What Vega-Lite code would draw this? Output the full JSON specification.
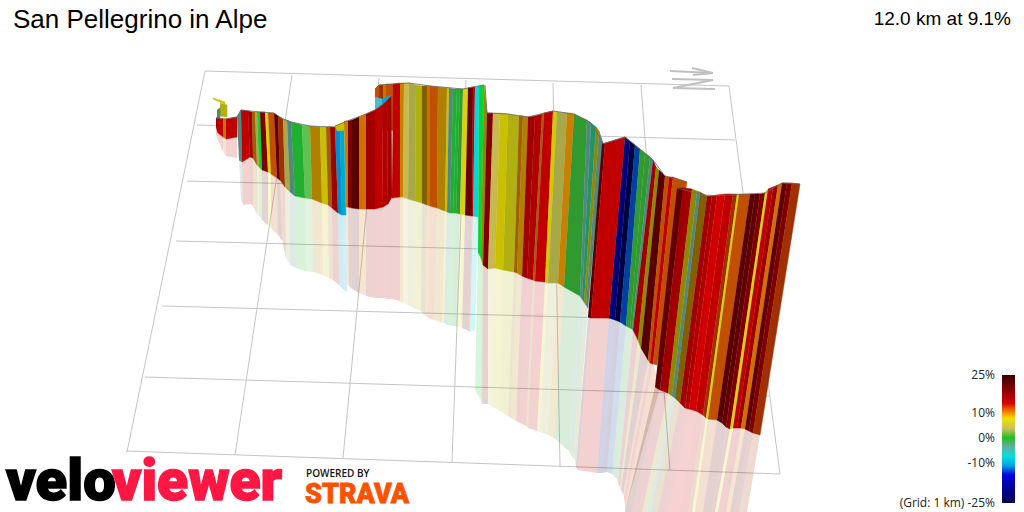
{
  "$schema": "https://vega.github.io/schema/vega-lite/v6.json",
  "width": 1024,
  "height": 512,
  "autosize": {"type": "none"},
  "padding": 0,
  "background": "white",
  "view": {"stroke": null},
  "datasets": {
    "grid": [
      {"x": 205, "y": 71, "x2": 729, "y2": 86},
      {"x": 197, "y": 125, "x2": 735, "y2": 140},
      {"x": 187, "y": 181, "x2": 743, "y2": 196},
      {"x": 176, "y": 241, "x2": 751, "y2": 256},
      {"x": 162, "y": 306, "x2": 758, "y2": 322},
      {"x": 145, "y": 377, "x2": 769, "y2": 396},
      {"x": 126, "y": 451, "x2": 780, "y2": 474},
      {"x": 205, "y": 71, "x2": 127, "y2": 452},
      {"x": 292, "y": 75, "x2": 235, "y2": 455},
      {"x": 379, "y": 78, "x2": 343, "y2": 458},
      {"x": 466, "y": 80, "x2": 452, "y2": 462},
      {"x": 553, "y": 83, "x2": 560, "y2": 467},
      {"x": 641, "y": 85, "x2": 670, "y2": 470},
      {"x": 729, "y": 86, "x2": 780, "y2": 474}
    ],
    "north": [
      {"x": 670, "y": 71, "x2": 713, "y2": 73},
      {"x": 692, "y": 68, "x2": 713, "y2": 73},
      {"x": 713, "y": 73, "x2": 693, "y2": 75},
      {"x": 672, "y": 79, "x2": 713, "y2": 80},
      {"x": 713, "y": 80, "x2": 673, "y2": 88},
      {"x": 673, "y": 88, "x2": 715, "y2": 89}
    ],
    "stripes": [
      {"g": 6, "x": [213, 225, 225, 213], "y": [98, 102, 104, 99]},
      {"g": 5, "x": [220, 227, 227, 220], "y": [103, 105, 117, 116]},
      {"g": -2, "x": [217, 220, 220, 217], "y": [110, 108, 118, 118]},
      {"g": 16, "x": [216, 218, 218, 216], "y": [118, 118, 133, 127], "mx": [216, 218, 218, 216], "my": [127, 133, 140, 135]},
      {"g": 14, "x": [218, 223, 223, 218], "y": [118, 119, 137, 133], "mx": [218, 223, 223, 218], "my": [133, 137, 152, 140]},
      {"g": 10, "x": [223, 226, 226, 223], "y": [119, 119, 139, 137], "mx": [223, 226, 226, 223], "my": [137, 139, 156, 152]},
      {"g": 14, "x": [226, 237, 237, 226], "y": [119, 117, 137, 139], "mx": [226, 237, 237, 226], "my": [139, 137, 158, 156]},

      {"g": -2, "x": [237, 241, 242, 239], "y": [117, 110, 162, 160], "mx": [239, 242, 243, 241], "my": [160, 162, 205, 200]},
      {"g": 14, "x": [241, 248, 250, 242], "y": [110, 111, 157, 162], "mx": [242, 250, 250, 243], "my": [162, 157, 204, 205]},
      {"g": 16, "x": [248, 252, 253, 250], "y": [111, 112, 158, 157], "mx": [250, 253, 253, 250], "my": [157, 158, 206, 204]},
      {"g": 8.5, "x": [252, 255, 257, 253], "y": [112, 112, 165, 158], "mx": [253, 257, 257, 253], "my": [158, 165, 214, 206]},
      {"g": 3, "x": [255, 257, 259, 257], "y": [112, 112, 167, 165], "mx": [257, 259, 259, 257], "my": [165, 167, 216, 214]},
      {"g": 1, "x": [257, 260, 262, 259], "y": [112, 112, 170, 167], "mx": [259, 262, 262, 259], "my": [167, 170, 220, 216]},
      {"g": 18, "x": [260, 265, 268, 262], "y": [112, 112, 172, 170], "mx": [262, 268, 268, 262], "my": [170, 172, 225, 220]},
      {"g": 7, "x": [265, 268, 271, 268], "y": [112, 113, 174, 172], "mx": [268, 271, 271, 268], "my": [172, 174, 228, 225]},
      {"g": 11, "x": [268, 274, 277, 271], "y": [113, 113, 178, 174], "mx": [271, 277, 278, 271], "my": [174, 178, 235, 228]},
      {"g": 21, "x": [274, 278, 280, 277], "y": [113, 116, 180, 178], "mx": [277, 280, 282, 278], "my": [178, 180, 240, 235]},
      {"g": 12, "x": [278, 283, 285, 280], "y": [116, 119, 187, 180], "mx": [280, 285, 286, 282], "my": [180, 187, 258, 240]},
      {"g": 3, "x": [283, 287, 290, 285], "y": [119, 120, 192, 187], "mx": [285, 290, 290, 286], "my": [187, 192, 265, 258]},
      {"g": -2, "x": [287, 291, 295, 290], "y": [120, 122, 196, 192], "mx": [290, 295, 296, 290], "my": [192, 196, 268, 265]},
      {"g": 0, "x": [291, 302, 305, 295], "y": [122, 125, 198, 196], "mx": [295, 305, 306, 296], "my": [196, 198, 271, 268]},
      {"g": 1.5, "x": [302, 310, 312, 305], "y": [125, 126, 199, 198], "mx": [305, 312, 313, 306], "my": [198, 199, 272, 271]},
      {"g": 8, "x": [310, 320, 322, 312], "y": [126, 127, 203, 199], "mx": [312, 322, 323, 313], "my": [199, 203, 275, 272]},
      {"g": 6, "x": [320, 326, 328, 322], "y": [127, 127, 205, 203], "mx": [322, 328, 329, 323], "my": [203, 205, 278, 275]},
      {"g": 8.5, "x": [326, 330, 332, 328], "y": [127, 127, 208, 205], "mx": [328, 332, 333, 329], "my": [205, 208, 280, 278]},
      {"g": 16, "x": [330, 335, 338, 332], "y": [127, 127, 213, 208], "mx": [332, 338, 339, 333], "my": [208, 213, 285, 280]},
      {"g": -10, "x": [335, 340, 342, 338], "y": [127, 129, 215, 213], "mx": [338, 342, 344, 339], "my": [213, 215, 290, 285]},
      {"g": -9, "x": [340, 344, 346, 342], "y": [129, 130, 215, 215], "mx": [342, 346, 347, 344], "my": [215, 215, 293, 290]},

      {"g": 11, "x": [375, 379, 379, 375], "y": [89, 85, 130, 130]},
      {"g": 12, "x": [379, 383, 383, 379], "y": [85, 85, 130, 130]},
      {"g": 10, "x": [383, 386, 386, 383], "y": [85, 84, 130, 130]},
      {"g": 11, "x": [386, 393, 393, 386], "y": [84, 84, 130, 130]},
      {"g": -5, "x": [375, 382, 382, 375], "y": [97, 99, 115, 115]},
      {"g": -9, "x": [382, 391, 390, 382], "y": [99, 95, 130, 130]},

      {"g": 14, "x": [393, 400, 400, 392], "y": [84, 83, 197, 198], "mx": [392, 400, 400, 392], "my": [198, 197, 301, 299]},
      {"g": 9, "x": [400, 404, 403, 400], "y": [83, 83, 197, 197], "mx": [400, 403, 403, 400], "my": [197, 197, 303, 301]},
      {"g": 4, "x": [404, 409, 408, 403], "y": [83, 83, 199, 197], "mx": [403, 408, 408, 403], "my": [197, 199, 305, 303]},
      {"g": 3, "x": [409, 416, 415, 408], "y": [83, 85, 201, 199], "mx": [408, 415, 414, 408], "my": [199, 201, 308, 305]},
      {"g": 5, "x": [416, 422, 422, 415], "y": [85, 86, 203, 201], "mx": [415, 422, 421, 414], "my": [201, 203, 311, 308]},
      {"g": 2.5, "x": [422, 427, 427, 422], "y": [86, 86, 205, 203], "mx": [422, 427, 425, 421], "my": [203, 205, 315, 311]},
      {"g": 10, "x": [427, 430, 430, 427], "y": [86, 86, 206, 205], "mx": [427, 430, 428, 425], "my": [205, 206, 318, 315]},
      {"g": 11, "x": [430, 438, 437, 430], "y": [86, 87, 208, 206], "mx": [430, 437, 434, 428], "my": [206, 208, 320, 318]},
      {"g": 8, "x": [438, 447, 445, 437], "y": [87, 88, 211, 208], "mx": [437, 445, 442, 434], "my": [208, 211, 323, 320]},
      {"g": 6, "x": [447, 449, 447, 445], "y": [88, 88, 212, 211], "mx": [445, 447, 444, 442], "my": [211, 212, 323, 323]},
      {"g": -2, "x": [449, 453, 450, 447], "y": [88, 89, 213, 212], "mx": [447, 450, 447, 444], "my": [212, 213, 325, 323]},
      {"g": 0, "x": [453, 457, 453, 450], "y": [89, 89, 213, 213], "mx": [450, 453, 450, 447], "my": [213, 213, 325, 325]},
      {"g": 0, "x": [457, 460, 456, 453], "y": [89, 89, 213, 213], "mx": [453, 456, 453, 450], "my": [213, 213, 326, 325]},
      {"g": -1, "x": [460, 463, 460, 456], "y": [89, 89, 214, 213], "mx": [456, 460, 457, 453], "my": [213, 214, 326, 326]},
      {"g": 7, "x": [463, 468, 465, 460], "y": [89, 88, 215, 214], "mx": [460, 465, 462, 457], "my": [214, 215, 328, 326]},
      {"g": 20, "x": [468, 473, 472, 465], "y": [88, 87, 216, 215], "mx": [465, 472, 469, 462], "my": [215, 216, 331, 328]},
      {"g": 14, "x": [473, 475, 473, 472], "y": [87, 87, 216, 216], "mx": [472, 473, 470, 469], "my": [216, 216, 332, 331]},
      {"g": -7, "x": [475, 479, 478, 473], "y": [87, 86, 217, 216], "mx": [473, 478, 475, 470], "my": [216, 217, 330, 332]},

      {"g": 6, "x": [335, 347, 347, 337], "y": [126, 121, 130, 131]},
      {"g": 9, "x": [344, 348, 348, 346], "y": [121, 121, 207, 207], "mx": [346, 348, 349, 347], "my": [207, 207, 286, 285]},
      {"g": 18, "x": [348, 352, 352, 348], "y": [121, 120, 208, 207], "mx": [348, 352, 352, 349], "my": [207, 208, 289, 286]},
      {"g": 22, "x": [352, 359, 359, 352], "y": [120, 117, 209, 208], "mx": [352, 359, 359, 352], "my": [208, 209, 293, 289]},
      {"g": 10, "x": [359, 366, 366, 359], "y": [117, 114, 209, 209], "mx": [359, 366, 366, 359], "my": [209, 209, 296, 293]},
      {"g": 16, "x": [366, 375, 375, 366], "y": [114, 110, 209, 209], "mx": [366, 375, 375, 366], "my": [209, 209, 298, 296]},
      {"g": 14, "x": [375, 382, 383, 375], "y": [110, 105, 207, 209], "mx": [375, 383, 383, 375], "my": [209, 207, 298, 298]},
      {"g": 15, "x": [382, 387, 388, 383], "y": [105, 101, 204, 207], "mx": [383, 388, 388, 383], "my": [207, 204, 299, 298]},
      {"g": 16, "x": [387, 391, 392, 388], "y": [101, 96, 197, 204], "mx": [388, 392, 392, 388], "my": [204, 197, 299, 299]},

      {"g": 1, "x": [479, 484, 481, 478], "y": [86, 85, 258, 252], "mx": [478, 481, 481, 475], "my": [252, 258, 400, 390]},
      {"g": 2, "x": [484, 487, 483, 481], "y": [85, 113, 265, 258], "mx": [481, 483, 482, 481], "my": [258, 265, 404, 400]},
      {"g": 18, "x": [487, 493, 488, 483], "y": [113, 113, 269, 265], "mx": [483, 488, 488, 482], "my": [265, 269, 404, 404]},
      {"g": 4, "x": [493, 500, 495, 488], "y": [113, 113, 268, 269], "mx": [488, 495, 493, 488], "my": [269, 268, 407, 404]},
      {"g": 6, "x": [500, 508, 503, 495], "y": [113, 114, 270, 268], "mx": [495, 503, 500, 493], "my": [268, 270, 411, 407]},
      {"g": 5, "x": [508, 519, 514, 503], "y": [114, 116, 272, 270], "mx": [503, 514, 508, 500], "my": [270, 272, 416, 411]},
      {"g": 8.5, "x": [519, 523, 517, 514], "y": [116, 116, 273, 272], "mx": [514, 517, 511, 508], "my": [272, 273, 418, 416]},
      {"g": 8, "x": [523, 528, 522, 517], "y": [116, 117, 276, 273], "mx": [517, 522, 516, 511], "my": [273, 276, 421, 418]},
      {"g": 16, "x": [528, 535, 527, 522], "y": [117, 116, 278, 276], "mx": [522, 527, 520, 516], "my": [276, 278, 423, 421]},
      {"g": 15, "x": [535, 542, 533, 527], "y": [116, 114, 280, 278], "mx": [527, 533, 526, 520], "my": [278, 280, 426, 423]},
      {"g": 8.5, "x": [542, 544, 535, 533], "y": [114, 113, 281, 280], "mx": [533, 535, 528, 526], "my": [280, 281, 428, 426]},
      {"g": 14, "x": [544, 553, 545, 535], "y": [113, 111, 282, 281], "mx": [535, 545, 537, 528], "my": [281, 282, 431, 428]},
      {"g": 6.5, "x": [553, 557, 548, 545], "y": [111, 112, 283, 282], "mx": [545, 548, 540, 537], "my": [282, 283, 432, 431]},
      {"g": 3, "x": [557, 567, 558, 548], "y": [112, 113, 283, 283], "mx": [548, 558, 548, 540], "my": [283, 283, 435, 432]},
      {"g": 9, "x": [567, 574, 564, 558], "y": [113, 114, 287, 283], "mx": [558, 564, 554, 548], "my": [283, 287, 438, 435]},
      {"g": -1, "x": [574, 587, 580, 564], "y": [114, 120, 296, 287], "mx": [564, 580, 569, 554], "my": [287, 296, 451, 438]},
      {"g": -2, "x": [587, 591, 582, 580], "y": [120, 123, 299, 296], "mx": [580, 582, 571, 569], "my": [296, 299, 455, 451]},
      {"g": -1.5, "x": [591, 596, 584, 582], "y": [123, 127, 302, 299], "mx": [582, 584, 573, 571], "my": [299, 302, 458, 455]},
      {"g": 2, "x": [596, 599, 586, 584], "y": [127, 131, 305, 302], "mx": [584, 586, 575, 573], "my": [302, 305, 460, 458]},
      {"g": -2, "x": [599, 603, 588, 586], "y": [131, 143, 308, 305], "mx": [586, 588, 576, 575], "my": [305, 308, 467, 460]},

      {"g": 21, "x": [602, 605, 591, 588], "y": [144, 143, 318, 317], "mx": [588, 591, 578, 576], "my": [317, 318, 470, 467]},
      {"g": 14, "x": [605, 625, 609, 591], "y": [143, 137, 318, 318], "mx": [591, 609, 597, 578], "my": [318, 318, 473, 470]},
      {"g": -20, "x": [625, 630, 615, 609], "y": [137, 141, 320, 318], "mx": [609, 615, 602, 597], "my": [318, 320, 473, 473]},
      {"g": -25, "x": [630, 635, 620, 615], "y": [141, 145, 322, 320], "mx": [615, 620, 607, 602], "my": [320, 322, 472, 473]},
      {"g": -13, "x": [635, 640, 626, 620], "y": [145, 149, 326, 322], "mx": [620, 626, 612, 607], "my": [322, 326, 474, 472]},
      {"g": -1, "x": [640, 645, 630, 626], "y": [149, 153, 328, 326], "mx": [626, 630, 615, 612], "my": [326, 328, 477, 474]},
      {"g": -1, "x": [645, 650, 632, 630], "y": [153, 157, 329, 328], "mx": [630, 632, 617, 615], "my": [328, 329, 479, 477]},
      {"g": -2, "x": [650, 653, 633, 632], "y": [157, 160, 330, 329], "mx": [632, 633, 618, 617], "my": [329, 330, 483, 479]},
      {"g": 16, "x": [653, 656, 638, 633], "y": [160, 167, 340, 330], "mx": [633, 638, 620, 618], "my": [330, 340, 487, 483]},
      {"g": 2, "x": [656, 659, 641, 638], "y": [167, 170, 348, 340], "mx": [638, 641, 621, 620], "my": [340, 348, 490, 487]},
      {"g": 22, "x": [659, 665, 648, 641], "y": [170, 176, 360, 348], "mx": [641, 648, 623, 621], "my": [348, 360, 494, 490]},
      {"g": 11, "x": [665, 669, 650, 648], "y": [176, 177, 363, 360], "mx": [648, 650, 624, 623], "my": [360, 363, 497, 494]},
      {"g": 14, "x": [669, 673, 653, 650], "y": [177, 177, 364, 363], "mx": [650, 653, 625, 624], "my": [363, 364, 505, 497]},
      {"g": 11, "x": [673, 687, 657, 653], "y": [177, 182, 365, 364], "mx": [653, 660, 625, 625], "my": [364, 387, 512, 505]},

      {"g": 21, "x": [677, 683, 660, 655], "y": [188, 188, 390, 387], "mx": [655, 660, 632, 625], "my": [387, 390, 512, 512]},
      {"g": 16, "x": [683, 692, 668, 660], "y": [188, 189, 393, 390], "mx": [660, 668, 642, 632], "my": [390, 393, 512, 512]},
      {"g": 2, "x": [692, 697, 672, 668], "y": [189, 191, 396, 393], "mx": [668, 672, 647, 642], "my": [393, 396, 512, 512]},
      {"g": -2, "x": [697, 700, 675, 672], "y": [191, 192, 398, 396], "mx": [672, 675, 651, 647], "my": [396, 398, 512, 512]},
      {"g": 2.5, "x": [700, 707, 680, 675], "y": [192, 196, 403, 398], "mx": [675, 680, 658, 651], "my": [398, 403, 512, 512]},
      {"g": 16, "x": [707, 712, 685, 680], "y": [196, 196, 408, 403], "mx": [680, 685, 665, 658], "my": [403, 408, 512, 512]},
      {"g": 15, "x": [712, 717, 689, 685], "y": [196, 195, 409, 408], "mx": [685, 689, 670, 665], "my": [408, 409, 512, 512]},
      {"g": 13, "x": [717, 725, 696, 689], "y": [195, 194, 411, 409], "mx": [689, 696, 679, 670], "my": [409, 411, 512, 512]},
      {"g": 14, "x": [725, 733, 703, 696], "y": [194, 194, 415, 411], "mx": [696, 703, 688, 679], "my": [411, 415, 512, 512]},
      {"g": 12, "x": [733, 737, 706, 703], "y": [194, 194, 418, 415], "mx": [703, 706, 692, 688], "my": [415, 418, 512, 512]},
      {"g": 7, "x": [737, 739, 708, 706], "y": [194, 194, 419, 418], "mx": [706, 708, 695, 692], "my": [418, 419, 512, 512]},
      {"g": 11, "x": [739, 750, 717, 708], "y": [194, 194, 420, 419], "mx": [708, 717, 703, 695], "my": [419, 420, 512, 512]},
      {"g": 22, "x": [750, 755, 722, 717], "y": [194, 194, 423, 420], "mx": [717, 722, 708, 703], "my": [420, 423, 512, 512]},
      {"g": 21, "x": [755, 760, 726, 722], "y": [194, 194, 427, 423], "mx": [722, 726, 711, 708], "my": [423, 427, 512, 512]},
      {"g": 18, "x": [760, 765, 730, 726], "y": [194, 193, 429, 427], "mx": [726, 730, 715, 711], "my": [427, 429, 512, 512]},
      {"g": 7, "x": [765, 768, 733, 730], "y": [193, 189, 428, 429], "mx": [730, 733, 718, 715], "my": [429, 428, 512, 512]},
      {"g": 14, "x": [768, 773, 737, 733], "y": [189, 187, 428, 428], "mx": [733, 737, 722, 718], "my": [428, 428, 512, 512]},
      {"g": 16, "x": [773, 778, 741, 737], "y": [187, 185, 428, 428], "mx": [737, 741, 726, 722], "my": [428, 428, 512, 512]},
      {"g": 10, "x": [778, 782, 745, 741], "y": [185, 183, 429, 428], "mx": [741, 745, 730, 726], "my": [428, 429, 512, 512]},
      {"g": 21, "x": [782, 787, 749, 745], "y": [183, 183, 431, 429], "mx": [745, 749, 735, 730], "my": [429, 431, 512, 512]},
      {"g": 18, "x": [787, 792, 753, 749], "y": [183, 183, 433, 431], "mx": [749, 753, 739, 735], "my": [431, 433, 512, 512]},
      {"g": 12, "x": [792, 800, 760, 753], "y": [183, 184, 435, 433], "mx": [753, 760, 747, 739], "my": [433, 435, 512, 512]}
    ],
    "ridge": [
      {"r": "a", "x": 216, "y": 118}, {"r": "a", "x": 226, "y": 119}, {"r": "a", "x": 237, "y": 117},
      {"r": "b", "x": 237, "y": 117}, {"r": "b", "x": 241, "y": 110}, {"r": "b", "x": 260, "y": 112}, {"r": "b", "x": 274, "y": 113}, {"r": "b", "x": 283, "y": 119}, {"r": "b", "x": 291, "y": 122}, {"r": "b", "x": 310, "y": 126}, {"r": "b", "x": 335, "y": 127},
      {"r": "c", "x": 335, "y": 126}, {"r": "c", "x": 347, "y": 121}, {"r": "c", "x": 366, "y": 114}, {"r": "c", "x": 375, "y": 110}, {"r": "c", "x": 382, "y": 105}, {"r": "c", "x": 391, "y": 96},
      {"r": "d", "x": 375, "y": 89}, {"r": "d", "x": 379, "y": 85}, {"r": "d", "x": 393, "y": 84}, {"r": "d", "x": 409, "y": 83}, {"r": "d", "x": 430, "y": 86}, {"r": "d", "x": 463, "y": 89}, {"r": "d", "x": 473, "y": 87}, {"r": "d", "x": 484, "y": 85},
      {"r": "e", "x": 485, "y": 85}, {"r": "e", "x": 487, "y": 113}, {"r": "e", "x": 508, "y": 114}, {"r": "e", "x": 528, "y": 117}, {"r": "e", "x": 553, "y": 111}, {"r": "e", "x": 574, "y": 114}, {"r": "e", "x": 591, "y": 123}, {"r": "e", "x": 603, "y": 143},
      {"r": "f", "x": 603, "y": 144}, {"r": "f", "x": 625, "y": 137}, {"r": "f", "x": 653, "y": 160}, {"r": "f", "x": 665, "y": 176}, {"r": "f", "x": 687, "y": 182},
      {"r": "g", "x": 677, "y": 188}, {"r": "g", "x": 707, "y": 196}, {"r": "g", "x": 750, "y": 194}, {"r": "g", "x": 765, "y": 193}, {"r": "g", "x": 782, "y": 183}, {"r": "g", "x": 800, "y": 184}
    ]
  },
  "encoding": {
    "x": {"field": "x", "type": "quantitative", "axis": null, "scale": {"domain": [0, 1024], "nice": false, "zero": false}},
    "y": {"field": "y", "type": "quantitative", "axis": null, "scale": {"domain": [512, 0], "nice": false, "zero": false}}
  },
  "layer": [
    {
      "data": {"name": "grid"},
      "mark": {"type": "rule", "color": "#c4c4c4", "strokeWidth": 1},
      "encoding": {"x2": {"field": "x2"}, "y2": {"field": "y2"}}
    },
    {
      "data": {"name": "north"},
      "mark": {"type": "rule", "color": "#c0c0c0", "strokeWidth": 2},
      "encoding": {"x2": {"field": "x2"}, "y2": {"field": "y2"}}
    },
    {
      "data": {"name": "stripes"},
      "transform": [
        {"filter": "isArray(datum.mx)"},
        {"window": [{"op": "row_number", "as": "s"}]},
        {"flatten": ["mx", "my"]},
        {"window": [{"op": "row_number", "as": "o"}]}
      ],
      "mark": {"type": "line", "filled": true, "opacity": 0.18, "strokeWidth": 0},
      "encoding": {
        "x": {"field": "mx", "type": "quantitative"},
        "y": {"field": "my", "type": "quantitative"},
        "detail": {"field": "s"},
        "order": {"field": "o", "type": "quantitative"},
        "fill": {
          "field": "g", "type": "quantitative", "legend": null,
          "scale": {
            "domain": [-25, -20, -16, -13, -10, -7, -5, -2, -1, 0, 1, 1.5, 2, 2.5, 3, 4, 5, 6, 7, 8, 8.5, 9, 10, 11, 12, 13, 14, 16, 18, 21, 25],
            "range": ["#000040", "#000078", "#0000a0", "#0040a0", "#0090c8", "#00d8e0", "#50b8c8", "#508880", "#309a30", "#20b030", "#10d030", "#60c050", "#908800", "#806000", "#a8a848", "#c8b850", "#b0b010", "#c8c000", "#d8d010", "#b08000", "#a06000", "#c88000", "#d07000", "#c05000", "#a03000", "#d00000", "#c00000", "#a00000", "#800000", "#600000", "#400000"]
          }
        }
      }
    },
    {
      "data": {"name": "stripes"},
      "transform": [
        {"window": [{"op": "row_number", "as": "s"}]},
        {"flatten": ["x", "y"]},
        {"window": [{"op": "row_number", "as": "o"}]}
      ],
      "mark": {"type": "line", "filled": true, "strokeWidth": 0.5},
      "encoding": {
        "detail": {"field": "s"},
        "order": {"field": "o", "type": "quantitative"},
        "fill": {
          "field": "g", "type": "quantitative", "legend": null,
          "scale": {
            "domain": [-25, -20, -16, -13, -10, -7, -5, -2, -1, 0, 1, 1.5, 2, 2.5, 3, 4, 5, 6, 7, 8, 8.5, 9, 10, 11, 12, 13, 14, 16, 18, 21, 25],
            "range": ["#000040", "#000078", "#0000a0", "#0040a0", "#0090c8", "#00d8e0", "#50b8c8", "#508880", "#309a30", "#20b030", "#10d030", "#60c050", "#908800", "#806000", "#a8a848", "#c8b850", "#b0b010", "#c8c000", "#d8d010", "#b08000", "#a06000", "#c88000", "#d07000", "#c05000", "#a03000", "#d00000", "#c00000", "#a00000", "#800000", "#600000", "#400000"]
          }
        },
        "stroke": {
          "field": "g", "type": "quantitative", "legend": null,
          "scale": {
            "domain": [-25, -20, -16, -13, -10, -7, -5, -2, -1, 0, 1, 1.5, 2, 2.5, 3, 4, 5, 6, 7, 8, 8.5, 9, 10, 11, 12, 13, 14, 16, 18, 21, 25],
            "range": ["#000040", "#000078", "#0000a0", "#0040a0", "#0090c8", "#00d8e0", "#50b8c8", "#508880", "#309a30", "#20b030", "#10d030", "#60c050", "#908800", "#806000", "#a8a848", "#c8b850", "#b0b010", "#c8c000", "#d8d010", "#b08000", "#a06000", "#c88000", "#d07000", "#c05000", "#a03000", "#d00000", "#c00000", "#a00000", "#800000", "#600000", "#400000"]
          }
        }
      }
    },
    {
      "data": {"name": "ridge"},
      "mark": {"type": "line", "color": "#666666", "strokeWidth": 1, "opacity": 0.8},
      "encoding": {"detail": {"field": "r"}}
    },
    {
      "data": {"values": [{"x": 1002, "x2": 1015, "y": 375, "y2": 503}]},
      "mark": {
        "type": "rect",
        "fill": {
          "gradient": "linear", "x1": 0, "y1": 0, "x2": 0, "y2": 1,
          "stops": [
            {"offset": 0, "color": "#3a0000"},
            {"offset": 0.14, "color": "#a00000"},
            {"offset": 0.22, "color": "#d80000"},
            {"offset": 0.27, "color": "#f06000"},
            {"offset": 0.34, "color": "#f0e000"},
            {"offset": 0.42, "color": "#c8c060"},
            {"offset": 0.49, "color": "#20c020"},
            {"offset": 0.56, "color": "#60b0a0"},
            {"offset": 0.64, "color": "#00e0e0"},
            {"offset": 0.71, "color": "#00a0e0"},
            {"offset": 0.78, "color": "#0000e0"},
            {"offset": 0.9, "color": "#000090"},
            {"offset": 1, "color": "#00004d"}
          ]
        }
      },
      "encoding": {"x2": {"field": "x2"}, "y2": {"field": "y2"}}
    },
    {
      "data": {"values": [
        {"x": 995, "y": 379, "t": "25%"},
        {"x": 995, "y": 417, "t": "10%"},
        {"x": 995, "y": 442, "t": "0%"},
        {"x": 995, "y": 467, "t": "-10%"},
        {"x": 995, "y": 507, "t": "(Grid: 1 km) -25%"}
      ]},
      "mark": {"type": "text", "align": "right", "baseline": "alphabetic", "font": "Open Sans", "fontSize": 12, "color": "#222222"},
      "encoding": {"text": {"field": "t"}}
    },
    {
      "data": {"values": [{"x": 13, "y": 28, "t": "San Pellegrino in Alpe"}]},
      "mark": {"type": "text", "align": "left", "baseline": "alphabetic", "font": "Liberation Sans", "fontSize": 26, "color": "#000000"},
      "encoding": {"text": {"field": "t"}}
    },
    {
      "data": {"values": [{"x": 1011, "y": 25, "t": "12.0 km at 9.1%"}]},
      "mark": {"type": "text", "align": "right", "baseline": "alphabetic", "font": "Liberation Sans", "fontSize": 19, "color": "#000000"},
      "encoding": {"text": {"field": "t"}}
    },
    {
      "data": {"values": [{"x": 6, "y": 500, "t": "velo"}]},
      "mark": {"type": "text", "align": "left", "baseline": "alphabetic", "font": "Roboto", "fontWeight": 900, "fontSize": 58, "color": "#000000", "stroke": "#000000", "strokeWidth": 1.5},
      "encoding": {"text": {"field": "t"}}
    },
    {
      "data": {"values": [{"x": 112, "y": 500, "t": "viewer"}]},
      "mark": {"type": "text", "align": "left", "baseline": "alphabetic", "font": "Roboto", "fontWeight": 900, "fontSize": 57, "color": "#ff1744", "stroke": "#ff1744", "strokeWidth": 1.5},
      "encoding": {"text": {"field": "t"}}
    },
    {
      "data": {"values": [{"x": 306, "y": 477, "t": "POWERED BY"}]},
      "mark": {"type": "text", "align": "left", "baseline": "alphabetic", "font": "Open Sans", "fontWeight": 600, "fontSize": 10, "color": "#111111"},
      "encoding": {"text": {"field": "t"}}
    },
    {
      "data": {"values": [{"x": 305, "y": 503, "t": "STRAVA"}]},
      "mark": {"type": "text", "align": "left", "baseline": "alphabetic", "font": "Roboto", "fontWeight": 900, "fontSize": 27, "color": "#fc5200", "stroke": "#fc5200", "strokeWidth": 0.8},
      "encoding": {"text": {"field": "t"}}
    }
  ]
}
